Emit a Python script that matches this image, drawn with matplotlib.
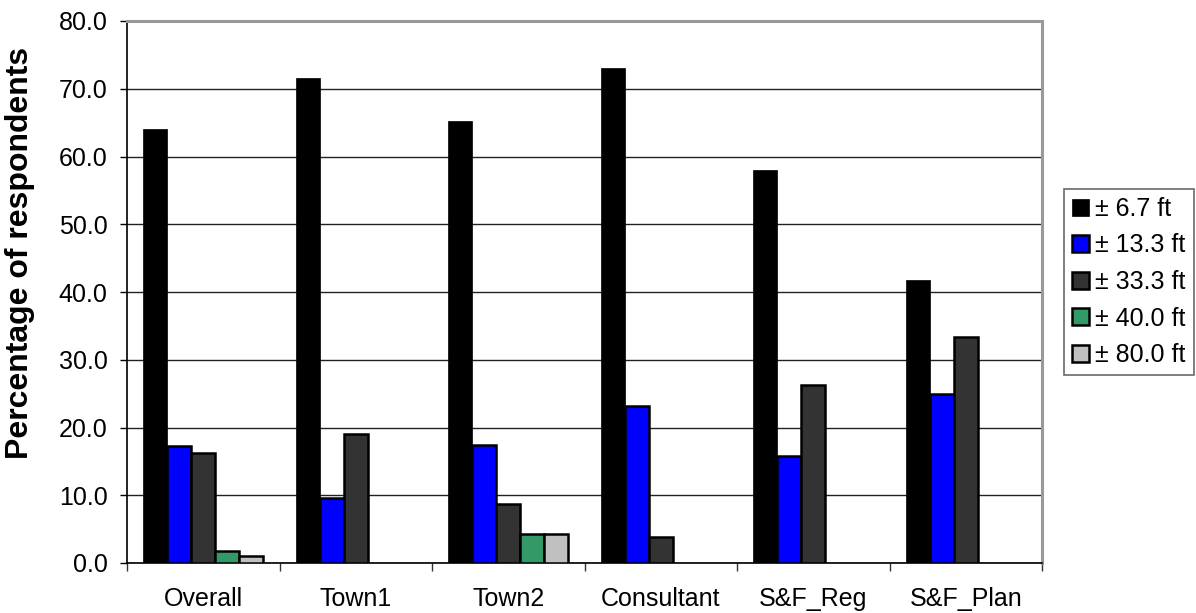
import matplotlib
matplotlib.use("Agg")
import matplotlib.pyplot as plt
import numpy as np

plt.rcParams['font.family'] = ['Liberation Sans', 'DejaVu Sans']

categories = ["Overall", "Town1", "Town2", "Consultant", "S&F_Reg", "S&F_Plan"]
series_labels = ["± 6.7 ft", "± 13.3 ft", "± 33.3 ft", "± 40.0 ft", "± 80.0 ft"]
v_6_7 = [64.1, 71.6, 65.3, 73.1, 58.0, 41.8]
v_13_3 = [17.2, 9.6, 17.4, 23.1, 15.8, 25.0]
v_33_3 = [16.3, 19.1, 8.7, 3.8, 26.3, 33.3]
v_40_0 = [1.8, 0.0, 4.3, 0.0, 0.0, 0.0]
v_80_0 = [1.0, 0.0, 4.3, 0.0, 0.0, 0.0]
series = [v_6_7, v_13_3, v_33_3, v_40_0, v_80_0]
colors = ["#000000", "#0000FF", "#333333", "#339966", "#C0C0C0"]
yticks = [0, 10, 20, 30, 40, 50, 60, 70, 80]

fig = plt.figure(figsize=(11.96, 6.13), dpi=100)
ax = fig.add_axes([127/1196, 50/613, (1042-127)/1196, (563-21)/613])

x = np.arange(len(categories))
bw = 0.157
for i, (vals, c, lab) in enumerate(zip(series, colors, series_labels)):
    offs = (i - 2) * bw
    xs, hs = [], []
    for xi, v in zip(x, vals):
        if v > 0:
            xs.append(xi + offs)
            hs.append(v)
    ax.bar(xs, hs, width=bw, color=c, edgecolor="black", linewidth=1.8 if i > 0 else 0.5,
           label=lab, zorder=3)

ax.set_xlim(-0.5, len(categories) - 0.5)
ax.set_ylim(0, 80)
ax.set_yticks(yticks)
ax.set_yticklabels([f"{t:.1f}" for t in yticks], fontsize=18)
ax.set_xticks(x)
ax.set_xticklabels(categories, fontsize=18)
ax.tick_params(axis='x', length=0, pad=17)
ax.set_xticks(np.arange(len(categories) + 1) - 0.5, minor=True)
ax.tick_params(axis='x', which='minor', length=6, width=1, direction='out', color='#333333')
ax.tick_params(axis='y', length=5, width=1, direction='out', pad=9)

ax.grid(axis='y', color='#222222', linewidth=1, zorder=0)
for s in ['left', 'bottom']:
    ax.spines[s].set_color('#000000')
    ax.spines[s].set_linewidth(1.2)
for s in ['right', 'top']:
    ax.spines[s].set_color('#999999')
    ax.spines[s].set_linewidth(2.2)

ax.set_ylabel("Percentage of respondents", fontsize=23, fontweight='bold')
ax.yaxis.set_label_coords((35 - 127) / 915, (563 - 253) / 542)

leg = fig.legend(loc='center left', bbox_to_anchor=(1064/1196, 1 - 282/613), fontsize=18,
                 frameon=True, fancybox=False, edgecolor='#444444', handlelength=0.68,
                 handleheight=0.68, handletextpad=0.25, borderpad=0.32, labelspacing=0.5,
                 borderaxespad=0)
leg.get_frame().set_linewidth(1.2)

fig.savefig("out.png", dpi=100, facecolor='white')
